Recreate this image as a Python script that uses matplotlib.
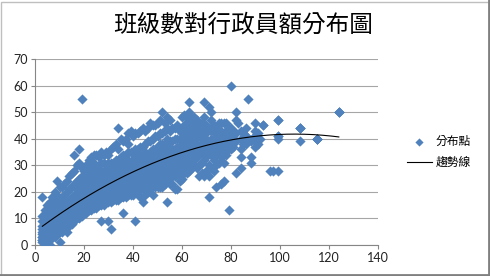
import matplotlib
matplotlib.use("Agg")
import matplotlib.pyplot as plt
from matplotlib.patches import Rectangle
import numpy as np

# 班級數 (x) -> 行政員額 (y), grouped by class count
# (several schools share the same point, so some values repeat)
staff_by_class = [
    (3, [1, 2, 2, 3, 3, 4, 5, 6, 7, 9, 11, 18]),
    (4, [1, 2, 2, 3, 4, 4, 6, 8, 10, 13]),
    (5, [2, 3, 3, 4, 5, 5, 6, 8, 9, 12, 15]),
    (6, [0, 2, 3, 3, 4, 5, 6, 7, 9, 11, 13, 16]),
    (7, [3, 4, 4, 5, 6, 6, 8, 10, 12, 15, 18]),
    (8, [3, 5, 5, 6, 7, 7, 9, 10, 12, 14, 17, 20]),
    (9, [4, 6, 6, 7, 8, 10, 11, 13, 16, 19, 24]),
    (10, [1, 5, 6, 7, 8, 9, 11, 12, 14, 17, 22]),
    (11, [5, 7, 8, 9, 10, 11, 12, 13, 15, 18, 22]),
    (12, [6, 7, 9, 10, 11, 12, 13, 14, 16, 19, 23]),
    (13, [5, 8, 9, 10, 11, 12, 13, 14, 16, 20, 24]),
    (14, [7, 9, 10, 11, 12, 13, 14, 15, 17, 21, 26]),
    (15, [8, 9, 11, 12, 13, 14, 15, 16, 18, 22, 27]),
    (16, [9, 10, 11, 12, 13, 14, 15, 16, 17, 19, 23, 28, 34]),
    (17, [10, 11, 12, 13, 14, 15, 16, 17, 19, 21, 24, 30]),
    (18, [10, 11, 12, 14, 15, 16, 17, 18, 20, 22, 25, 31, 36]),
    (19, [11, 12, 13, 15, 16, 17, 18, 19, 21, 23, 26, 29, 55]),
    (20, [12, 13, 13, 14, 15, 16, 17, 18, 19, 21, 23, 25, 28]),
    (21, [12, 13, 13, 14, 16, 17, 18, 19, 20, 22, 24, 27, 30]),
    (22, [13, 14, 14, 15, 17, 18, 19, 20, 21, 23, 25, 28, 32]),
    (23, [13, 14, 14, 16, 17, 18, 19, 20, 21, 22, 24, 26, 29, 33]),
    (24, [14, 15, 15, 16, 18, 19, 20, 21, 22, 23, 25, 28, 31, 34]),
    (25, [14, 15, 15, 17, 18, 19, 20, 21, 22, 24, 26, 29, 34]),
    (26, [15, 16, 16, 17, 19, 20, 21, 22, 23, 25, 27, 30, 33]),
    (27, [9, 15, 17, 17, 18, 20, 21, 22, 23, 24, 26, 28, 31, 35]),
    (28, [15, 16, 16, 18, 19, 20, 21, 22, 23, 24, 26, 28, 31, 34]),
    (29, [16, 17, 17, 18, 20, 21, 22, 23, 24, 25, 27, 30, 35]),
    (30, [9, 16, 18, 18, 19, 20, 21, 22, 23, 24, 25, 27, 29, 31, 34]),
    (31, [6, 16, 18, 18, 19, 21, 22, 23, 24, 25, 26, 28, 31, 36]),
    (32, [17, 18, 18, 20, 21, 22, 23, 24, 25, 26, 28, 31, 37]),
    (33, [17, 19, 19, 20, 22, 23, 24, 25, 26, 27, 29, 32, 38]),
    (34, [17, 19, 19, 20, 22, 23, 24, 25, 26, 27, 29, 32, 36, 44]),
    (35, [18, 19, 19, 21, 22, 23, 24, 25, 26, 28, 30, 33, 40]),
    (36, [12, 18, 20, 20, 21, 23, 24, 25, 26, 27, 29, 31, 34, 39]),
    (37, [18, 20, 20, 21, 23, 24, 25, 26, 27, 28, 30, 34, 40]),
    (38, [19, 20, 20, 22, 23, 24, 25, 26, 27, 28, 30, 32, 35, 38, 42]),
    (39, [19, 21, 21, 22, 24, 25, 26, 27, 28, 29, 31, 35, 43]),
    (40, [19, 21, 21, 23, 24, 25, 26, 27, 28, 30, 32, 35, 41]),
    (41, [9, 20, 22, 22, 23, 25, 26, 27, 28, 29, 31, 33, 36, 42]),
    (42, [20, 22, 22, 23, 25, 26, 27, 28, 29, 31, 33, 36, 42]),
    (43, [18, 21, 23, 23, 24, 26, 27, 28, 29, 30, 32, 34, 37, 43]),
    (44, [16, 21, 23, 23, 25, 26, 27, 28, 29, 30, 32, 34, 37, 44]),
    (45, [19, 22, 24, 24, 25, 27, 28, 29, 30, 31, 33, 35, 38, 43]),
    (46, [20, 22, 22, 24, 26, 27, 28, 29, 30, 32, 34, 39, 44]),
    (47, [21, 23, 23, 25, 26, 28, 29, 30, 31, 33, 35, 39, 46]),
    (48, [19, 23, 25, 25, 27, 28, 29, 30, 31, 32, 34, 36, 40, 45]),
    (49, [22, 24, 24, 26, 27, 29, 30, 31, 32, 34, 36, 41, 45]),
    (50, [22, 24, 24, 26, 28, 29, 30, 31, 32, 33, 35, 37, 41, 46]),
    (51, [22, 25, 25, 27, 28, 30, 31, 32, 33, 35, 38, 42, 47]),
    (52, [22, 25, 25, 27, 29, 30, 31, 32, 33, 35, 38, 42, 50]),
    (53, [23, 25, 25, 27, 29, 30, 31, 32, 33, 34, 36, 38, 43, 46]),
    (54, [16, 24, 26, 26, 28, 30, 31, 32, 33, 34, 37, 40, 44, 48]),
    (55, [23, 26, 26, 28, 30, 31, 32, 33, 34, 36, 39, 43, 47]),
    (56, [23, 26, 26, 28, 30, 31, 32, 33, 34, 36, 39, 44]),
    (57, [21, 26, 26, 28, 30, 32, 33, 34, 36, 40, 44]),
    (58, [21, 27, 27, 29, 31, 32, 33, 34, 35, 37, 40, 45]),
    (59, [24, 27, 29, 31, 32, 33, 34, 35, 37, 40, 43]),
    (60, [25, 28, 30, 31, 32, 33, 34, 36, 38, 42, 44, 48]),
    (61, [27, 29, 31, 32, 33, 34, 35, 37, 40, 42, 45, 49]),
    (62, [27, 30, 32, 33, 34, 36, 39, 42, 44, 46, 48]),
    (63, [28, 31, 33, 34, 35, 38, 41, 44, 47, 50, 54]),
    (64, [29, 32, 34, 36, 39, 42, 45, 48]),
    (65, [30, 32, 35, 37, 40, 43, 46, 48]),
    (66, [29, 33, 36, 38, 41, 44, 47]),
    (67, [26, 30, 34, 37, 41, 43, 46]),
    (68, [27, 31, 35, 38, 40, 43, 46]),
    (69, [26, 32, 36, 39, 42, 45, 48, 54]),
    (70, [28, 33, 37, 40, 42, 45]),
    (71, [18, 26, 30, 35, 38, 44, 52]),
    (72, [29, 34, 37, 40, 43, 47, 50]),
    (73, [28, 32, 36, 40, 43, 45]),
    (74, [22, 30, 34, 38, 41, 44]),
    (75, [31, 35, 39, 42, 46]),
    (76, [23, 33, 37, 40, 43, 46]),
    (77, [24, 31, 35, 39, 42, 46]),
    (78, [34, 38, 40, 43, 46]),
    (79, [13, 36, 38, 41, 44]),
    (80, [36, 39, 41, 44, 60]),
    (81, [37, 40, 43]),
    (82, [27, 39, 42, 47, 50]),
    (83, [46]),
    (84, [29, 33, 36, 40, 43]),
    (85, [38, 42]),
    (86, [38, 41, 41, 44]),
    (87, [55]),
    (88, [31, 33, 39]),
    (90, [37, 39, 41, 41, 43, 46]),
    (91, [38, 42]),
    (92, [40]),
    (93, [45, 45]),
    (96, [28]),
    (97, [28]),
    (99, [28, 40, 41, 41, 47, 47]),
    (108, [39, 44, 44, 44]),
    (115, [40, 40, 40, 40]),
    (124, [50, 50, 50]),
]

x_ticks = [0, 20, 40, 60, 80, 100, 120, 140]
y_ticks = [0, 10, 20, 30, 40, 50, 60, 70]
title = "班級數對行政員額分布圖"
series_label = "分布點"
trend_label = "趨勢線"

xs = np.array([x for x, ys in staff_by_class for _ in ys], dtype=float)
ys = np.array([y for _, col in staff_by_class for y in col], dtype=float)

# Excel-style polynomial (order 2) trendline
coef = np.polyfit(xs, ys, 2)
tx = np.linspace(xs.min(), xs.max(), 200)
ty = np.polyval(coef, tx)

plt.rcParams['font.family'] = ['Lato', 'Noto Sans CJK TC', 'DejaVu Sans']
blue = '#4F81BD'
grid_gray = '#A6A6A6'

fig = plt.figure(figsize=(4.9, 2.76), dpi=100)
ax = fig.add_axes([35 / 490, 1 - 245 / 276, 343 / 490, 186 / 276])

ax.scatter(xs, ys, marker='D', s=27, color=blue, linewidths=0,
           label=series_label, zorder=3)
ax.plot(tx, ty, color='black', lw=0.8, label=trend_label, zorder=4)

ax.set_xlim(0, 140)
ax.set_ylim(0, 70)
ax.set_xticks(x_ticks)
ax.set_yticks(y_ticks)
ax.yaxis.grid(True, color=grid_gray, lw=0.8)
ax.set_axisbelow(True)
for side in ['top', 'right']:
    ax.spines[side].set_visible(False)
for side in ['left', 'bottom']:
    ax.spines[side].set_color('#868686')
    ax.spines[side].set_linewidth(0.8)
ax.tick_params(axis='both', colors='#868686', length=3, width=0.8,
               labelsize=9, labelcolor='#222222', pad=2)

fig.text(243 / 490, 1 - 25 / 276, title, ha='center', va='center',
         fontsize=17, family=['Noto Sans CJK TC'])

leg = ax.legend(loc='center left', bbox_to_anchor=(407 / 490, 1 - 152 / 276),
                bbox_transform=fig.transFigure, frameon=False,
                borderpad=0, borderaxespad=0,
                prop={'family': ['Noto Sans CJK TC'], 'size': 8.5},
                handlelength=2.1, handletextpad=0.35, labelspacing=0.7,
                scatterpoints=1, markerscale=0.8)

# chart frame with a slight shadow on the right/bottom
fig.patches.append(Rectangle((0.5 / 490, 0.5 / 276), 488 / 490, 274 / 276,
                             transform=fig.transFigure, fill=False,
                             edgecolor='#BFBFBF', lw=1))
fig.add_artist(plt.Line2D([488.5 / 490, 488.5 / 490], [0, 1],
                          transform=fig.transFigure, color='#808080', lw=2))
fig.add_artist(plt.Line2D([0, 1], [1.2 / 276, 1.2 / 276],
                          transform=fig.transFigure, color='#808080', lw=2))

fig.savefig('out.png', dpi=100)
